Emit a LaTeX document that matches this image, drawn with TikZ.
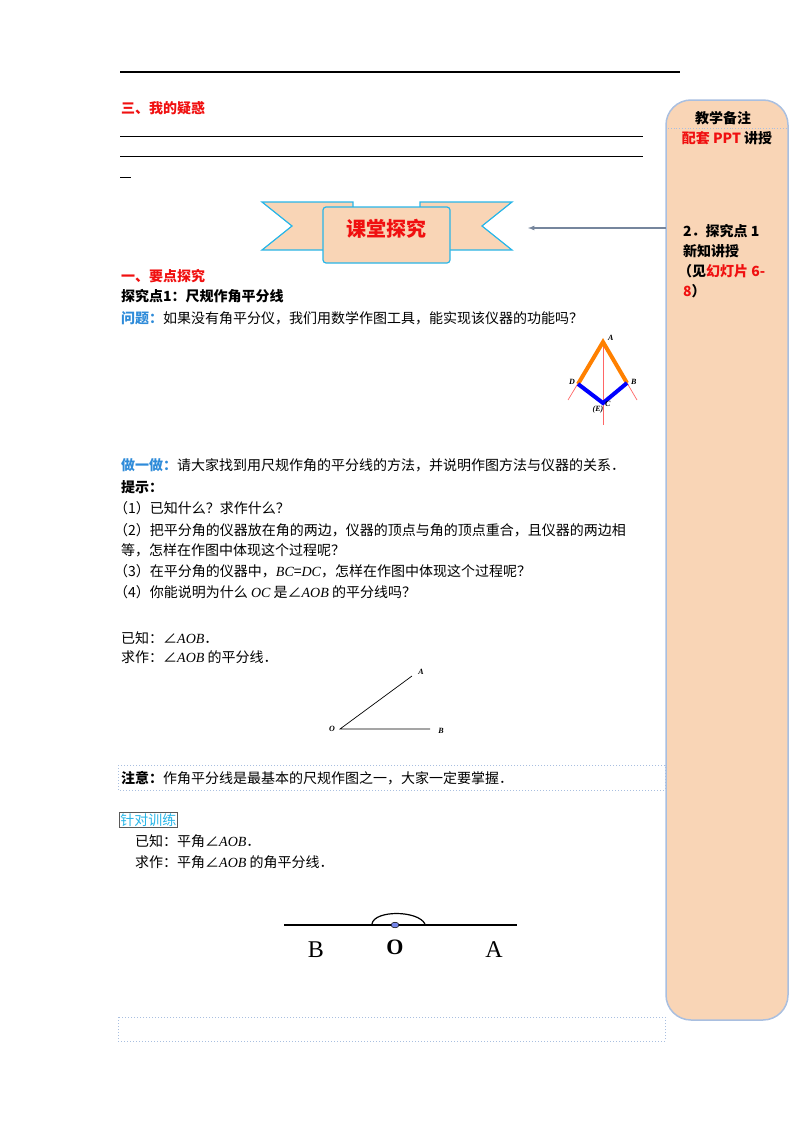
\documentclass[tikz,border=0pt]{standalone}
\usepackage{fontspec}
\setmainfont{Liberation Serif}
\newfontfamily\cjk{Noto Sans CJK SC}
\definecolor{peach}{HTML}{F9D5B6}
\definecolor{ribblue}{HTML}{29B6E8}
\definecolor{pblue}{HTML}{A9BFE0}
\definecolor{qblue}{HTML}{2E8BD9}
\definecolor{tred}{HTML}{F01010}
\begin{document}
\begin{tikzpicture}[x=1pt,y=-1pt,
  txt/.style={anchor=west,inner sep=0,font=\fontsize{14}{16}\selectfont\cjk},
  btxt/.style={anchor=west,inner sep=0,font=\fontsize{14}{16}\selectfont\cjk\bfseries},
  lab/.style={inner sep=0,font=\fontsize{8}{9}\selectfont\itshape\bfseries},
  thinred/.style={draw=red!60,line width=0.7}]
\useasboundingbox (0,0) rectangle (800,1132);
% right panel
\draw[fill=peach,draw=pblue,line width=1.5,rounded corners=25] (666,100) rectangle (788,1020);
\draw[pblue,dotted,line width=0.8] (668,128) -- (786,128);
\node[inner sep=0,font=\fontsize{14}{16}\selectfont\cjk\bfseries] (bz) at (723,118) {教学备注};
\node[inner sep=0,font=\fontsize{14}{16}\selectfont\cjk\bfseries] (pt) at (727,138) {\textcolor{tred}{配套 PPT} 讲授};
\node[btxt] (r1) at (683,231) {2．探究点 1};
\node[btxt] (r2) at (683,251) {新知讲授};
\node[btxt] (r3) at (678,271) {（见\textcolor{tred}{幻灯片 6-}};
\node[btxt] (r4) at (683,291) {\textcolor{tred}{8}）};
% top lines
\draw[line width=1.2] (120,72) -- (680,72);
\node[btxt,text=tred] (t3) at (121,108) {三、我的疑惑};
\draw[line width=0.6] (120,136) -- (643,136);
\draw[line width=0.6] (120,156) -- (643,156);
\draw[line width=0.6] (120,177) -- (131,177);
% banner
\draw[fill=peach,draw=ribblue,line width=1.2] (262,202) -- (353,202) -- (353,250) -- (262,250) -- (292,226) -- cycle;
\draw[fill=peach,draw=ribblue,line width=1.2] (420,202) -- (512,202) -- (482,226) -- (512,250) -- (420,250) -- cycle;
\draw[fill=peach,draw=ribblue,line width=1.2,rounded corners=3] (323,207) rectangle (450,263);
\node[inner sep=0,text=tred,font=\fontsize{20}{22}\selectfont\cjk\bfseries] (ban) at (386,229) {课堂探究};
\coordinate (arS) at (666,228);
\draw[-latex,draw=pblue!70!black,line width=1.2] (arS) -- (528,228);
% section
\node[btxt,text=tred] (s1) at (121,276) {一、要点探究};
\node[btxt] (s2) at (121,296) {探究点1：尺规作角平分线};
\node[txt] (q) at (121,318) {\textcolor{qblue}{\bfseries 问题：}如果没有角平分仪，我们用数学作图工具，能实现该仪器的功能吗？};
% instrument
\coordinate (A) at (603,342); \coordinate (D) at (578,384); \coordinate (B) at (627,383); \coordinate (C) at (603,403);
\draw[thinred] (A) -- (603,425);
\draw[thinred] (A) -- (568,400);
\draw[thinred] (A) -- (637,400);
\draw[orange,line width=4] (D) -- (A) -- (B);
\draw[blue,line width=4] (D) -- (C) -- (B);
\node[lab,anchor=west] (la) at (608,338) {A};
\node[lab,anchor=east] (ld) at (575,382) {D};
\node[lab,anchor=west] (lb) at (631,382) {B};
\node[lab,anchor=west] (lc) at (605,404) {C};
\node[lab] (le) at (598,410) {(E)};
% hints
\node[txt] (d1) at (121,465) {\textcolor{qblue}{\bfseries 做一做：}请大家找到用尺规作角的平分线的方法，并说明作图方法与仪器的关系．};
\node[btxt] (h0) at (121,487) {提示：};
\node[txt] (h1) at (114,508) {（1）已知什么？求作什么？};
\node[txt] (h2) at (114,530) {（2）把平分角的仪器放在角的两边，仪器的顶点与角的顶点重合，且仪器的两边相};
\node[txt] (h2b) at (121,550) {等，怎样在作图中体现这个过程呢？};
\node[txt] (h3) at (114,571) {（3）在平分角的仪器中，{\rmfamily\itshape BC}={\rmfamily\itshape DC}，怎样在作图中体现这个过程呢？};
\node[txt] (h4) at (114,592) {（4）你能说明为什么 {\rmfamily\itshape OC} 是∠{\rmfamily\itshape AOB} 的平分线吗？};
\node[txt] (k1) at (121,638) {已知：∠{\rmfamily\itshape AOB}．};
\node[txt] (k2) at (121,657) {求作：∠{\rmfamily\itshape AOB} 的平分线．};
% angle
\coordinate (O2) at (340,729); \coordinate (B2) at (430,729); \coordinate (A2) at (412,676);
\draw[line width=0.7] (A2) -- (O2) -- (B2);
\node[lab] (lo2) at (332,729) {O};
\node[lab] (lb2) at (441,731) {B};
\node[lab] (la2) at (421,672) {A};
% note box
\draw[pblue,dotted,line width=1] (118,765) rectangle (665,790);
\node[txt] (zy) at (121,778) {\textbf{注意：}作角平分线是最基本的尺规作图之一，大家一定要掌握．};
\node[draw=gray!70!black,line width=0.8,inner sep=1,anchor=west,text=ribblue,font=\fontsize{14}{16}\selectfont\cjk] (zd) at (119,820) {针对训练};
\node[txt] (y1) at (135,841) {已知：平角∠{\rmfamily\itshape AOB}．};
\node[txt] (y2) at (135,862) {求作：平角∠{\rmfamily\itshape AOB} 的角平分线．};
% straight angle
\draw[line width=2.5] (284,925) -- (517,925);
\draw[line width=1.2] (372,924) .. controls (374,910) and (418,910) .. (425,924);
\draw[fill=pblue!70!blue,draw=black,line width=0.5] (395,925) ellipse (4 and 2.8);
\node[inner sep=0,font=\fontsize{24}{26}\selectfont] (bb) at (316,950) {B};
\node[inner sep=0,font=\fontsize{22}{24}\selectfont\bfseries] (oo) at (395,947) {O};
\node[inner sep=0,font=\fontsize{24}{26}\selectfont] (aa) at (494,950) {A};
\draw[pblue,dotted,line width=1] (118,1017) rectangle (665,1041);
\end{tikzpicture}
\end{document}
